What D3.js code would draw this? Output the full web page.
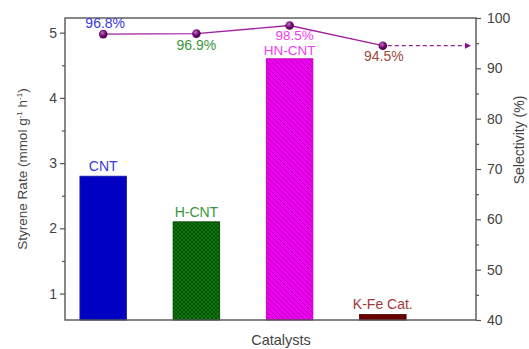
<!DOCTYPE html>
<html>
<head>
<meta charset="utf-8">
<script src="https://cdn.jsdelivr.net/npm/d3@7"></script>
<style>
  html, body { margin: 0; padding: 0; background: #fff; }
  svg { display: block; font-family: "Liberation Sans", Arial, sans-serif; }
</style>
</head>
<body>
<svg id="chart" width="529" height="349"></svg>
<script>
// Catalysts, styrene rate (left axis) and selectivity (right axis)
const catalysts = ["CNT", "H-CNT", "HN-CNT", "K-Fe Cat."];
const rateValues = [2.8, 2.1, 4.6, 0.68];
const selectivityValues = [96.8, 96.9, 98.5, 94.5];
const selectivityLabels = ["96.8%", "96.9%", "98.5%", "94.5%"];
const rateTicks = [1, 2, 3, 4, 5];
const rateMinorTicks = [1.5, 2.5, 3.5, 4.5];
const selTicks = [40, 50, 60, 70, 80, 90, 100];
const selMinorTicks = [45, 55, 65, 75, 85, 95];

const barFill = ["#0000d0", "#005a00", "#f000f0", "#6a0000"];
const barEdge = ["#1a1aa0", "#003a00", "#b000b0", "#4a0000"];
const barHatch = ["#0000a8", "#1f7a1f", "#b400b4", "#6a0000"];
const labelColor = ["#3a3ae0", "#3c963c", "#f040f0", "#a03a3a"];
const pctColor = ["#3a3ae0", "#3c963c", "#f040f0", "#a04a3a"];

const svg = d3.select("#chart");
const m = { left: 65, right: 476, top: 18, bottom: 320 };

const x = d3.scaleLinear().domain([0.59, 5.0]).range([m.left, m.right]);
const yRate = d3.scaleLinear().domain([0.595, 5.225]).range([m.bottom, m.top]);
const ySel = d3.scaleLinear().domain([40, 100]).range([m.bottom, m.top]);
const barW = x(1.5) - x(1);

// fill patterns for the bars
const defs = svg.append("defs");
function cross(id, bg, fg) {
  const p = defs.append("pattern").attr("id", id).attr("patternUnits", "userSpaceOnUse")
    .attr("width", 4).attr("height", 4);
  p.append("rect").attr("width", 4).attr("height", 4).attr("fill", bg);
  p.append("path").attr("d", "M0,0 L4,4 M4,0 L0,4").attr("stroke", fg).attr("stroke-width", 0.7);
}
cross("pat0", barFill[0], barHatch[0]);
cross("pat1", barFill[1], barHatch[1]);
{
  const p = defs.append("pattern").attr("id", "pat2").attr("patternUnits", "userSpaceOnUse")
    .attr("width", 5).attr("height", 5);
  p.append("rect").attr("width", 5).attr("height", 5).attr("fill", barFill[2]);
  p.append("path").attr("d", "M-1,-1 L6,6 M-1,4 L1,6 M4,-1 L6,1").attr("stroke", barHatch[2]).attr("stroke-width", 1);
}
cross("pat3", barFill[3], barHatch[3]);

const grad = defs.append("radialGradient").attr("id", "ball").attr("cx", "40%").attr("cy", "35%").attr("r", "65%");
grad.append("stop").attr("offset", "0%").attr("stop-color", "#c070c0");
grad.append("stop").attr("offset", "60%").attr("stop-color", "#6a0a6a");
grad.append("stop").attr("offset", "100%").attr("stop-color", "#4a004a");

const arrowM = defs.append("marker").attr("id", "arrow").attr("viewBox", "0 0 10 10")
  .attr("refX", 9).attr("refY", 5).attr("markerWidth", 9).attr("markerHeight", 6)
  .attr("markerUnits", "userSpaceOnUse").attr("orient", "auto");
arrowM.append("path").attr("d", "M0,0 L10,5 L0,10 z").attr("fill", "#8a108a");

// bars
const data = catalysts.map((c, i) => ({ c, i, pos: i + 1, rate: rateValues[i], sel: selectivityValues[i] }));
svg.append("g").selectAll("rect").data(data).join("rect")
  .attr("x", d => x(d.pos) - barW / 2)
  .attr("y", d => yRate(d.rate))
  .attr("width", barW)
  .attr("height", d => yRate.range()[0] - yRate(d.rate))
  .attr("fill", d => `url(#pat${d.i})`)
  .attr("stroke", d => barEdge[d.i])
  .attr("stroke-width", 0.8);

// bar labels (the HN-CNT label sits just under its selectivity value)
svg.append("g").selectAll("text").data(data).join("text")
  .attr("x", d => x(d.pos))
  .attr("y", d => d.i === 2 ? yRate(d.rate) - 4 : yRate(d.rate) - 5)
  .attr("text-anchor", "middle")
  .attr("font-size", d => d.i === 2 ? 13.5 : 14)
  .attr("fill", d => labelColor[d.i])
  .text(d => d.c);

// axes
const axisColor = "#555";
svg.append("g").attr("transform", `translate(${m.left},0)`)
  .call(d3.axisLeft(yRate).tickValues(rateTicks).tickFormat(d3.format("d")).tickSize(5).tickPadding(3));
svg.append("g").attr("transform", `translate(${m.left},0)`)
  .call(d3.axisLeft(yRate).tickValues(rateMinorTicks).tickFormat("").tickSize(3));
svg.append("g").attr("transform", `translate(${m.right},0)`)
  .call(d3.axisRight(ySel).tickValues(selTicks).tickFormat(d3.format("d")).tickSize(5).tickPadding(6));
svg.append("g").attr("transform", `translate(${m.right},0)`)
  .call(d3.axisRight(ySel).tickValues(selMinorTicks).tickFormat("").tickSize(3));
svg.selectAll(".domain").remove();
svg.selectAll(".tick line").attr("stroke", axisColor).attr("stroke-width", 1.2);
svg.selectAll(".tick text").attr("font-size", 14).attr("fill", "#444")
  .attr("font-family", "'Liberation Sans', Arial, sans-serif");

// frame
svg.append("rect").attr("x", m.left).attr("y", m.top)
  .attr("width", m.right - m.left).attr("height", m.bottom - m.top)
  .attr("fill", "none").attr("stroke", axisColor).attr("stroke-width", 1.4);

// selectivity line, trend arrow and markers
const line = d3.line().x(d => x(d.pos)).y(d => ySel(d.sel));
svg.append("path").datum(data).attr("d", line)
  .attr("fill", "none").attr("stroke", "#a020a0").attr("stroke-width", 1.4);
const last = data[data.length - 1];
svg.append("line")
  .attr("x1", x(last.pos) + 5).attr("y1", ySel(last.sel))
  .attr("x2", x(4.94)).attr("y2", ySel(last.sel))
  .attr("stroke", "#9a209a").attr("stroke-width", 1.3)
  .attr("stroke-dasharray", "4,3")
  .attr("marker-end", "url(#arrow)");
svg.append("g").selectAll("circle").data(data).join("circle")
  .attr("cx", d => x(d.pos)).attr("cy", d => ySel(d.sel)).attr("r", 4.3)
  .attr("fill", "url(#ball)");

// selectivity labels
const pctOffset = [[2, -6], [0, 16], [5, 14], [1, 15]];
svg.append("g").selectAll("text").data(data).join("text")
  .attr("x", d => x(d.pos) + pctOffset[d.i][0])
  .attr("y", d => ySel(d.sel) + pctOffset[d.i][1])
  .attr("text-anchor", "middle")
  .attr("font-size", d => d.i === 2 ? 13.5 : 14)
  .attr("fill", d => pctColor[d.i])
  .text(d => selectivityLabels[d.i]);

// axis titles
const yl = svg.append("text")
  .attr("transform", `translate(27,${(m.top + m.bottom) / 2}) rotate(-90)`)
  .attr("text-anchor", "middle").attr("font-size", 13.5).attr("fill", "#444");
yl.append("tspan").text("Styrene Rate (mmol g");
yl.append("tspan").attr("dy", -5).attr("font-size", 8).text("-1");
yl.append("tspan").attr("dy", 5).text(" h");
yl.append("tspan").attr("dy", -5).attr("font-size", 8).text("-1");
yl.append("tspan").attr("dy", 5).text(")");

svg.append("text")
  .attr("transform", `translate(524,140) rotate(-90)`)
  .attr("text-anchor", "middle").attr("font-size", 14).attr("fill", "#444")
  .text("Selectivity (%)");

svg.append("text").attr("x", 281).attr("y", 345)
  .attr("text-anchor", "middle").attr("font-size", 14.5).attr("fill", "#444")
  .text("Catalysts");
</script>
</body>
</html>
